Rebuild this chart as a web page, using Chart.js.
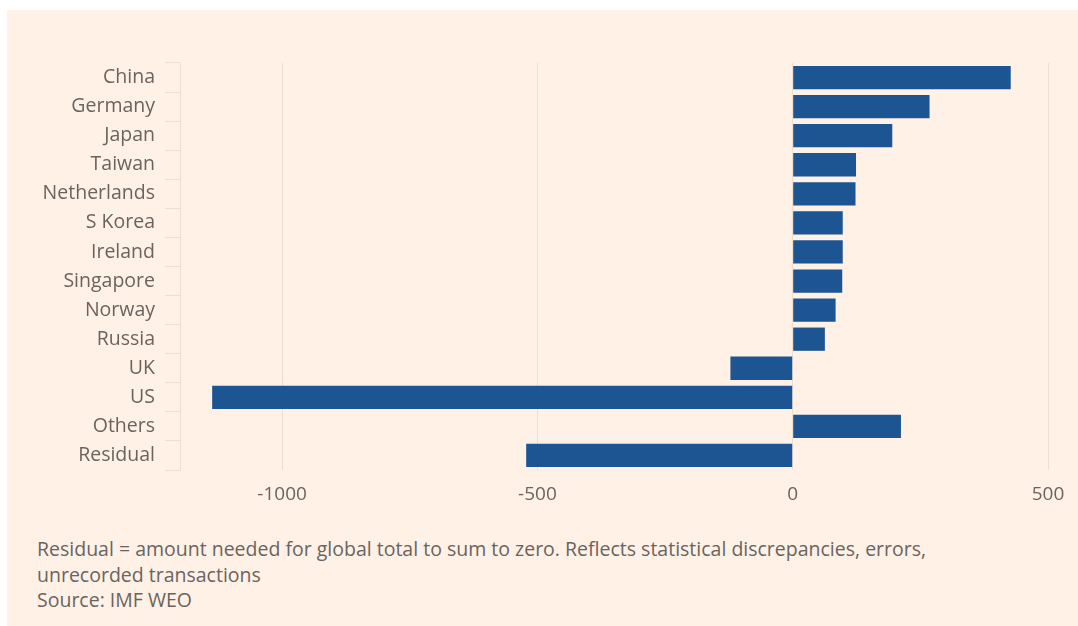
<!DOCTYPE html>
<html>
<head>
<meta charset="utf-8">
<script src="https://cdn.jsdelivr.net/npm/chart.js@4"></script>
<style>
body { margin: 0; background: #fff; }
#panel { position: absolute; left: 7px; top: 10px; width: 1071px; height: 616px; background: #fff1e5; }
#wrap { position: absolute; left: 0; top: 0; width: 1078px; height: 520px; }
.note { position: absolute; left: 37px; font-family: "Open Sans", sans-serif; font-size: 19.5px; color: #6a6460; line-height: 25.5px; white-space: nowrap; }
</style>
</head>
<body>
<div id="panel"></div>
<div id="wrap"><canvas id="chart-balance"></canvas></div>
<div class="note" style="top:536px;">Residual = amount needed for global total to sum to zero. Reflects statistical discrepancies, errors,<br>unrecorded transactions<br>Source: IMF WEO</div>
<script>
const countries = ['China', 'Germany', 'Japan', 'Taiwan', 'Netherlands', 'S Korea', 'Ireland',
    'Singapore', 'Norway', 'Russia', 'UK', 'US', 'Others', 'Residual'];
const balances = [427, 268, 195, 124, 123, 98, 98, 97, 84, 63, -122, -1137, 212, -522];
const xTicks = [-1000, -500, 0, 500];

const textGrey = '#6a6460';
const faint = 'rgba(200,185,170,0.35)';

const ctx = document.getElementById('chart-balance').getContext('2d');
const myChart = new Chart(ctx, {
    type: 'bar',
    data: {
        labels: countries,
        datasets: [{
            data: balances,
            backgroundColor: '#1d5492',
            borderColor: '#1d5492',
            barPercentage: 0.8,
            categoryPercentage: 1.0
        }]
    },
    options: {
        indexAxis: 'y',
        responsive: true,
        maintainAspectRatio: false,
        animation: false,
        layout: { padding: { top: 63, right: 30, left: 0, bottom: 0 } },
        plugins: { legend: { display: false }, tooltip: { enabled: false } },
        scales: {
            x: {
                min: -1200,
                max: 500,
                afterBuildTicks: axis => { axis.ticks = xTicks.map(v => ({ value: v })); },
                afterFit: axis => { axis.height = 50; },
                grid: { color: faint, drawTicks: false },
                border: { display: false },
                ticks: {
                    padding: 13,
                    color: textGrey,
                    font: { family: 'Open Sans', size: 19 },
                    callback: v => String(v)
                }
            },
            y: {
                afterFit: axis => { axis.width = 180; },
                grid: { drawOnChartArea: false, drawTicks: true, tickLength: 15, color: faint },
                border: { display: true, color: faint },
                ticks: {
                    padding: 10,
                    color: textGrey,
                    font: { family: 'Open Sans', size: 19.5 }
                }
            }
        }
    }
});
</script>
</body>
</html>
